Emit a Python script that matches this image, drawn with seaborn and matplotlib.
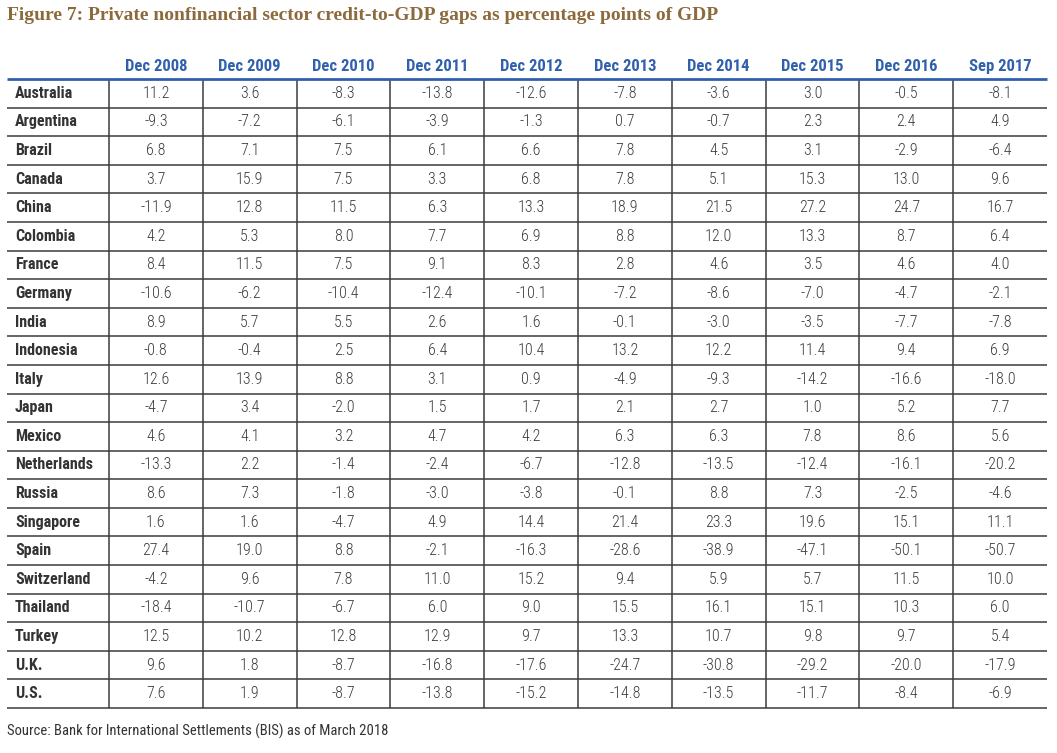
import numpy as np
import pandas as pd
import matplotlib
matplotlib.use("Agg")
import matplotlib.pyplot as plt
import seaborn as sns
from matplotlib.colors import ListedColormap

# Table contents
periods = ['Dec 2008', 'Dec 2009', 'Dec 2010', 'Dec 2011', 'Dec 2012',
           'Dec 2013', 'Dec 2014', 'Dec 2015', 'Dec 2016', 'Sep 2017']
countries = ['Australia', 'Argentina', 'Brazil', 'Canada', 'China', 'Colombia',
             'France', 'Germany', 'India', 'Indonesia', 'Italy', 'Japan',
             'Mexico', 'Netherlands', 'Russia', 'Singapore', 'Spain',
             'Switzerland', 'Thailand', 'Turkey', 'U.K.', 'U.S.']

australia = [11.2, 3.6, -8.3, -13.8, -12.6, -7.8, -3.6, 3.0, -0.5, -8.1]
argentina = [-9.3, -7.2, -6.1, -3.9, -1.3, 0.7, -0.7, 2.3, 2.4, 4.9]
brazil = [6.8, 7.1, 7.5, 6.1, 6.6, 7.8, 4.5, 3.1, -2.9, -6.4]
canada = [3.7, 15.9, 7.5, 3.3, 6.8, 7.8, 5.1, 15.3, 13.0, 9.6]
china = [-11.9, 12.8, 11.5, 6.3, 13.3, 18.9, 21.5, 27.2, 24.7, 16.7]
colombia = [4.2, 5.3, 8.0, 7.7, 6.9, 8.8, 12.0, 13.3, 8.7, 6.4]
france = [8.4, 11.5, 7.5, 9.1, 8.3, 2.8, 4.6, 3.5, 4.6, 4.0]
germany = [-10.6, -6.2, -10.4, -12.4, -10.1, -7.2, -8.6, -7.0, -4.7, -2.1]
india = [8.9, 5.7, 5.5, 2.6, 1.6, -0.1, -3.0, -3.5, -7.7, -7.8]
indonesia = [-0.8, -0.4, 2.5, 6.4, 10.4, 13.2, 12.2, 11.4, 9.4, 6.9]
italy = [12.6, 13.9, 8.8, 3.1, 0.9, -4.9, -9.3, -14.2, -16.6, -18.0]
japan = [-4.7, 3.4, -2.0, 1.5, 1.7, 2.1, 2.7, 1.0, 5.2, 7.7]
mexico = [4.6, 4.1, 3.2, 4.7, 4.2, 6.3, 6.3, 7.8, 8.6, 5.6]
netherlands = [-13.3, 2.2, -1.4, -2.4, -6.7, -12.8, -13.5, -12.4, -16.1, -20.2]
russia = [8.6, 7.3, -1.8, -3.0, -3.8, -0.1, 8.8, 7.3, -2.5, -4.6]
singapore = [1.6, 1.6, -4.7, 4.9, 14.4, 21.4, 23.3, 19.6, 15.1, 11.1]
spain = [27.4, 19.0, 8.8, -2.1, -16.3, -28.6, -38.9, -47.1, -50.1, -50.7]
switzerland = [-4.2, 9.6, 7.8, 11.0, 15.2, 9.4, 5.9, 5.7, 11.5, 10.0]
thailand = [-18.4, -10.7, -6.7, 6.0, 9.0, 15.5, 16.1, 15.1, 10.3, 6.0]
turkey = [12.5, 10.2, 12.8, 12.9, 9.7, 13.3, 10.7, 9.8, 9.7, 5.4]
uk = [9.6, 1.8, -8.7, -16.8, -17.6, -24.7, -30.8, -29.2, -20.0, -17.9]
us = [7.6, 1.9, -8.7, -13.8, -15.2, -14.8, -13.5, -11.7, -8.4, -6.9]

rows = [australia, argentina, brazil, canada, china, colombia, france, germany,
        india, indonesia, italy, japan, mexico, netherlands, russia, singapore,
        spain, switzerland, thailand, turkey, uk, us]
df = pd.DataFrame(rows, index=countries, columns=periods)

# Colours
TITLE_C = '#8c6a3c'
HEAD_C = '#3060ae'
TEXT_C = '#333333'
NUM_C = '#3c3c3c'
LINE_C = '#3c3c3c'

sns.set_style('white')
plt.rcParams['font.family'] = ['Liberation Sans Narrow', 'Roboto Condensed',
                               'Open Sans Condensed', 'DejaVu Sans']
plt.rcParams['font.stretch'] = 'condensed'

W, H = 1057, 753
fig = plt.figure(figsize=(W / 100, H / 100), dpi=100)

# table body in pixel terms
x0, x1 = 109, 1047     # data columns
y0, y1 = 79, 708       # header rule to last rule
left_edge = 7
ax = fig.add_axes([x0 / W, 1 - y1 / H, (x1 - x0) / W, (y1 - y0) / H])

sns.heatmap(df, ax=ax, cmap=ListedColormap(['white']), cbar=False,
            annot=True, fmt='.1f',
            annot_kws={'color': NUM_C, 'fontsize': 11.5, 'fontweight': 'light'})

# header on top
ax.xaxis.tick_top()
ax.set_xticklabels(periods, rotation=0, color=HEAD_C, fontsize=12,
                   fontweight='bold')
ax.tick_params(axis='x', length=0, pad=3.5)

# row labels left-aligned in the label column
label_pad = (x0 - left_edge - 8) * 72 / 100
ax.set_yticklabels(countries, rotation=0, color=TEXT_C, fontsize=11.5,
                   fontweight='bold', ha='left')
ax.tick_params(axis='y', length=0, pad=label_pad)
ax.set_xlabel('')
ax.set_ylabel('')
for s in ax.spines.values():
    s.set_visible(False)

# rules
n_rows, n_cols = df.shape
ext = -(x0 - left_edge) / (x1 - x0)
trans = ax.get_yaxis_transform()
ax.hlines(np.arange(1, n_rows + 1), ext, 1, transform=trans, colors=LINE_C,
          lw=1.1, clip_on=False)
ax.vlines(np.arange(0, n_cols), 0, n_rows, colors=LINE_C, lw=1.1, clip_on=False)
ax.hlines([0], ext, 1, transform=trans, colors=HEAD_C, lw=2.0, clip_on=False,
          zorder=5)

fig.text(left_edge / W, 1 - 15 / H,
         'Figure 7: Private nonfinancial sector credit-to-GDP gaps as percentage points of GDP',
         family='Liberation Serif', fontweight='bold', fontsize=14,
         color=TITLE_C, va='center', ha='left', stretch='normal')
fig.text(left_edge / W, 1 - 731 / H,
         'Source: Bank for International Settlements (BIS) as of March 2018',
         fontsize=10.5, color=TEXT_C, va='center', ha='left')

fig.savefig('out.png', dpi=100)
